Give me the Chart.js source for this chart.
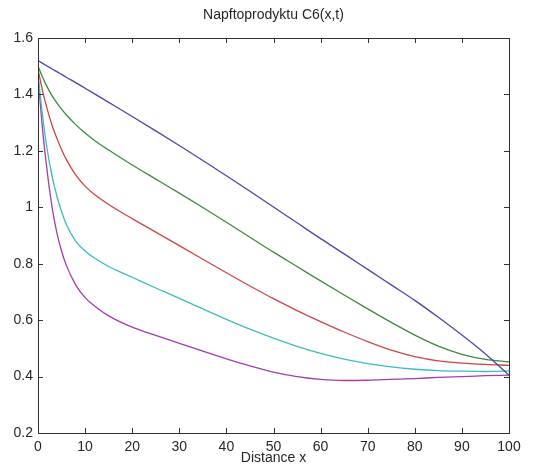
<!DOCTYPE html>
<html>
<head>
<meta charset="utf-8">
<script src="https://cdn.jsdelivr.net/npm/chart.js@4"></script>
<style>
  html, body { margin: 0; padding: 0; background: #fff; }
  #wrap { width: 549px; height: 467px; position: relative; }
</style>
</head>
<body>
<div id="wrap"><canvas id="c6_chart"></canvas></div>
<script>
// distance samples (denser near the inlet where the profiles fall steeply)
const distance = [0, 1, 2, 3, 4, 5, 6, 8, 10, 12, 15, 20, 25, 30, 35, 40, 45, 50, 55, 60, 65, 70, 75, 80, 85, 90, 95, 100];

// C6 concentration profiles for successive times
const c6Blue    = [1.52, 1.51, 1.50, 1.49, 1.481, 1.471, 1.461, 1.442, 1.422, 1.402, 1.372, 1.322, 1.271, 1.219, 1.166, 1.112, 1.057, 1.001, 0.945, 0.889, 0.835, 0.78, 0.725, 0.67, 0.61, 0.547, 0.48, 0.405];
const c6Green   = [1.50, 1.46, 1.425, 1.395, 1.37, 1.348, 1.328, 1.293, 1.263, 1.237, 1.203, 1.15, 1.10, 1.05, 0.999, 0.947, 0.894, 0.841, 0.79, 0.739, 0.689, 0.64, 0.592, 0.547, 0.508, 0.479, 0.461, 0.452];
const c6Red     = [1.49, 1.41, 1.345, 1.29, 1.245, 1.205, 1.17, 1.115, 1.075, 1.045, 1.01, 0.96, 0.912, 0.864, 0.816, 0.768, 0.721, 0.676, 0.634, 0.595, 0.558, 0.524, 0.494, 0.471, 0.456, 0.448, 0.443, 0.44];
const c6Cyan    = [1.47, 1.32, 1.20, 1.11, 1.04, 0.985, 0.94, 0.88, 0.845, 0.82, 0.79, 0.752, 0.714, 0.677, 0.64, 0.603, 0.568, 0.536, 0.507, 0.482, 0.462, 0.446, 0.434, 0.426, 0.421, 0.419, 0.418, 0.42];
const c6Magenta = [1.46, 1.27, 1.12, 1.00, 0.91, 0.845, 0.795, 0.725, 0.68, 0.65, 0.615, 0.575, 0.546, 0.518, 0.49, 0.463, 0.438, 0.416, 0.40, 0.39, 0.386, 0.387, 0.39, 0.393, 0.397, 0.40, 0.403, 0.405];

const seriesList = [c6Blue, c6Green, c6Red, c6Cyan, c6Magenta];
const lineColors = ['#4848a8', '#3d8a3d', '#cc4646', '#3cbcbc', '#a43cac'];

const chartTitle = 'Napftoprodyktu C6(x,t)';
const FONT = "'Liberation Sans', Arial, sans-serif";
const TEXT = '#262626';

// box around the plot with inward ticks on all four sides, title centred over the axes
const boxPlugin = {
  id: 'matlabBox',
  afterDatasetsDraw(chart) {
    const { ctx, chartArea: a, scales } = chart;
    const len = 5;
    ctx.save();
    ctx.strokeStyle = '#303030';
    ctx.lineWidth = 1;
    ctx.strokeRect(Math.round(a.left) + 0.5, Math.round(a.top) + 0.5,
                   Math.round(a.right - a.left), Math.round(a.bottom - a.top));
    ctx.beginPath();
    scales.x.ticks.forEach(t => {
      const px = Math.round(scales.x.getPixelForValue(t.value)) + 0.5;
      ctx.moveTo(px, a.bottom); ctx.lineTo(px, a.bottom - len);
      ctx.moveTo(px, a.top); ctx.lineTo(px, a.top + len);
    });
    scales.y.ticks.forEach(t => {
      const py = Math.round(scales.y.getPixelForValue(t.value)) + 0.5;
      ctx.moveTo(a.left, py); ctx.lineTo(a.left + len, py);
      ctx.moveTo(a.right, py); ctx.lineTo(a.right - len, py);
    });
    ctx.stroke();

    ctx.fillStyle = TEXT;
    ctx.font = '14px ' + FONT;
    ctx.textAlign = 'center';
    ctx.textBaseline = 'middle';
    ctx.fillText(chartTitle, (a.left + a.right) / 2, 15);
    ctx.restore();
  }
};

const ctx = document.getElementById('c6_chart').getContext('2d');
new Chart(ctx, {
  type: 'line',
  data: {
    datasets: seriesList.map((values, i) => ({
      data: distance.map((x, j) => ({ x: x, y: values[j] })),
      borderColor: lineColors[i],
      borderWidth: 1.3,
      pointRadius: 0,
      cubicInterpolationMode: 'monotone',
      fill: false
    }))
  },
  options: {
    responsive: true,
    maintainAspectRatio: false,
    animation: false,
    layout: { padding: { left: 0, right: 40, top: 38, bottom: 0 } },
    plugins: {
      legend: { display: false },
      tooltip: { enabled: false },
      title: { display: false }
    },
    scales: {
      x: {
        type: 'linear',
        min: 0,
        max: 100,
        ticks: { stepSize: 10, padding: 6, color: TEXT, font: { family: FONT, size: 14 }, maxRotation: 0 },
        grid: { display: false, drawTicks: false },
        border: { display: false },
        title: {
          display: true,
          text: 'Distance x',
          color: TEXT,
          font: { family: FONT, size: 14 },
          padding: { top: 0, bottom: 0 }
        },
        afterFit(scale) { scale.height = 34; }
      },
      y: {
        type: 'linear',
        min: 0.2,
        max: 1.6,
        ticks: { stepSize: 0.2, padding: 5, color: TEXT, font: { family: FONT, size: 14 },
                 callback: v => Number(v.toFixed(1)).toString() },
        grid: { display: false, drawTicks: false },
        border: { display: false },
        afterFit(scale) { scale.width = 38; }
      }
    }
  },
  plugins: [boxPlugin]
});
</script>
</body>
</html>
